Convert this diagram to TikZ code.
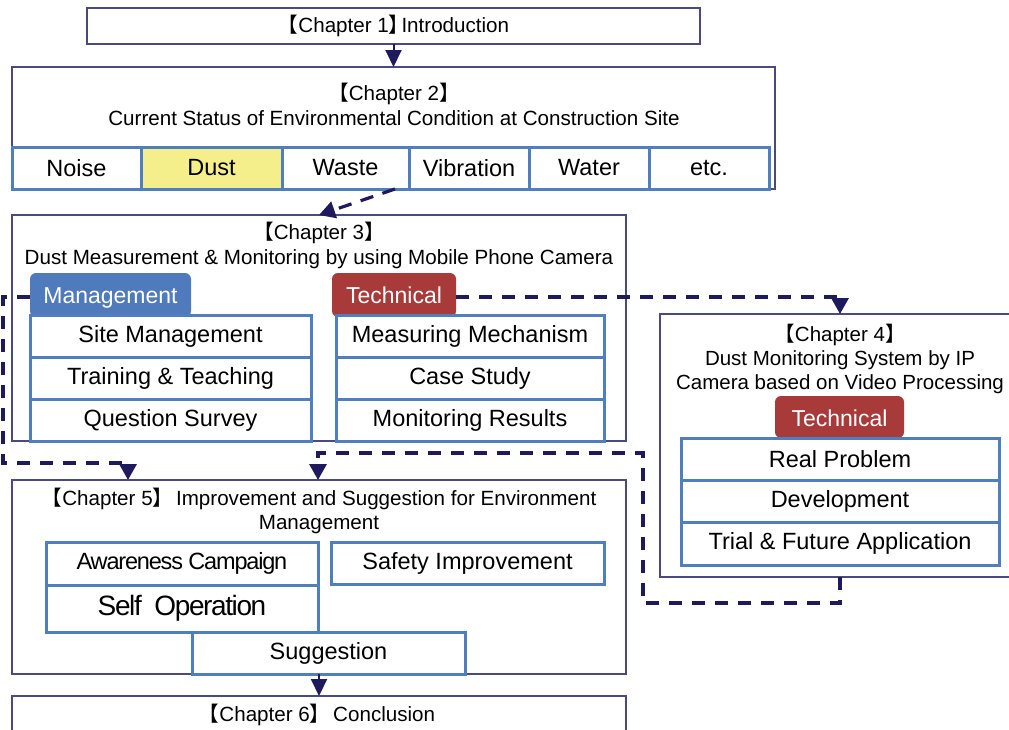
\documentclass[tikz,border=0pt]{standalone}
\usepackage{fontspec}
\setmainfont{Liberation Sans}
\newfontfamily\cjk{Noto Sans CJK SC}
\usetikzlibrary{arrows.meta}
\newcommand\lbk{{\cjk 【}}
\newcommand\rbk{{\cjk 】}}
\definecolor{navy}{HTML}{1F1A5E}
\definecolor{chline}{HTML}{4B4A80}
\definecolor{cellblue}{HTML}{4F7FBF}
\definecolor{tabblue}{HTML}{4F7BBD}
\definecolor{tabred}{HTML}{A83A3A}
\definecolor{dustyellow}{HTML}{F4EF8A}
\begin{document}
\begin{tikzpicture}[x=1pt,y=-1pt,
  chbox/.style={draw=chline, line width=1.3pt, fill=white, inner sep=0pt, outer sep=0pt, anchor=north west},
  chtitle/.style={font=\fontsize{20.6}{25}\selectfont, align=center, inner sep=0pt},
  cell/.style={draw=cellblue, line width=3pt, fill=white, inner sep=0pt, outer sep=0pt, anchor=north west,
    font=\fontsize{23.5}{26}\selectfont},
  tabbox/.style={rounded corners=6pt, inner sep=0pt, outer sep=0pt, anchor=north west},
  tabtext/.style={text=white, font=\fontsize{23}{26}\selectfont, inner sep=0pt, anchor=base},
  tight/.style={font=\fontsize{#1}{26}\selectfont\addfontfeature{LetterSpace=-5}},
  solidarrow/.style={draw=navy, line width=2pt, -{Triangle[width=16pt,length=17pt]}},
  flowdash/.style={draw=navy, line width=3.2pt, dash pattern=on 13.3pt off 9.7pt, line join=miter,
    -{Triangle[width=17pt,length=16pt]}}
]
\clip (0,0) rectangle (1009,729);
\fill[white] (0,0) rectangle (1009,729);

% Chapter 1
\node[chbox, minimum width=613pt, minimum height=36pt, font=\fontsize{20.6}{25}\selectfont]
  (ch1) at (87,8) {\lbk Chapter 1\rbk\hspace{-8pt}Introduction};

% Chapter 2 with the list of environmental conditions
\node[chbox, minimum width=763pt, minimum height=122pt] (ch2) at (12,67) {};
\node[chtitle] (ch2t) at (394,104.5) {\lbk Chapter 2\rbk\\Current Status of Environmental Condition at Construction Site};
\node[cell, minimum width=129pt, minimum height=42pt] (noise) at (12,147) {Noise};
\node[cell, minimum width=141pt, minimum height=42pt, fill=dustyellow] (dust) at (141,147) {Dust};
\node[cell, minimum width=127pt, minimum height=42pt] (waste) at (282,147) {Waste};
\node[cell, minimum width=120pt, minimum height=42pt] (vib) at (409,147) {Vibration};
\node[cell, minimum width=120pt, minimum height=42pt] (water) at (529,147) {Water};
\node[cell, minimum width=120pt, minimum height=42pt] (etc) at (649,147) {etc.};

% Chapter 3
\node[chbox, minimum width=614pt, minimum height=226pt] (ch3) at (12,215) {};
\node[chtitle] (ch3t) at (319,245.5) {\lbk Chapter 3\rbk\\Dust Measurement \& Monitoring by using Mobile Phone Camera};
\node[tabbox, fill=tabblue, minimum width=161pt, minimum height=44pt] (mtab) at (30,273) {};
\node[tabtext] (mtabt) at (110.5,303) {Management};
\node[tabbox, fill=tabred, minimum width=124pt, minimum height=44pt] (ttab) at (332,273) {};
\node[tabtext] (ttabt) at (394,303) {Technical};
\node[cell, minimum width=281pt, minimum height=42pt] (site) at (30,315) {Site Management};
\node[cell, minimum width=281pt, minimum height=42pt] (train) at (30,357) {Training \& Teaching};
\node[cell, minimum width=281pt, minimum height=42pt] (quest) at (30,399) {Question Survey};
\node[cell, minimum width=268pt, minimum height=42pt] (meas) at (336,315) {Measuring Mechanism};
\node[cell, minimum width=268pt, minimum height=42pt] (case) at (336,357) {Case Study};
\node[cell, minimum width=268pt, minimum height=42pt] (monit) at (336,399) {Monitoring Results};

% Chapter 4
\node[chbox, minimum width=360pt, minimum height=263pt] (ch4) at (660,314) {};
\node[chtitle, font=\fontsize{20.5}{24}\selectfont] (ch4t) at (840,359) {\lbk Chapter 4\rbk\\Dust Monitoring System by IP\\Camera based on Video Processing};
\node[tabbox, fill=tabred, minimum width=129pt, minimum height=42pt] (t4tab) at (775,396) {};
\node[tabtext] (t4tabt) at (839.5,426) {Technical};
\node[cell, minimum width=318pt, minimum height=42pt] (real) at (681,438) {Real Problem};
\node[cell, minimum width=318pt, minimum height=42pt] (dev) at (681,480) {Development};
\node[cell, minimum width=318pt, minimum height=43pt] (trial) at (681,522) {Trial \& Future Application};

% Chapter 5
\node[chbox, minimum width=614pt, minimum height=194pt] (ch5) at (12,480) {};
\node[chtitle, font=\fontsize{20.6}{24}\selectfont] (ch5t) at (319,511) {\lbk Chapter 5\rbk\hspace{-3pt}\ Improvement and Suggestion for Environment\\Management};
\node[cell, minimum width=272pt, minimum height=43pt, tight=23.5] (aware) at (46,542) {Awareness Campaign};
\node[cell, minimum width=273pt, minimum height=42pt] (safety) at (331,542) {Safety Improvement};
\node[cell, minimum width=272pt, minimum height=47pt, tight=28] (self) at (46,585) {Self\ \ Operation};
\node[cell, minimum width=273pt, minimum height=42pt] (sugg) at (192,632) {Suggestion};

% Chapter 6
\node[chbox, minimum width=614pt, minimum height=60pt] (ch6) at (12,696) {};
\node[chtitle] (ch6t) at (317,715) {\lbk Chapter 6\rbk\hspace{-3pt}\ Conclusion};

% bend points of the dashed routes
\coordinate (s23) at (395,189);
\coordinate (mA) at (3,297);
\coordinate (mB) at (3,463);
\coordinate (c4A) at (643,603);
\coordinate (c4B) at (643,453);

% connectors
\draw[solidarrow] (ch1.south) -- (ch2.north);
\draw[flowdash] (s23) -- (ch3.north);
\draw[flowdash] ([yshift=-2pt]ttab.east) -| (ch4.north);
\draw[flowdash] ([yshift=-2pt]mtab.west) -- (mA) -- (mB) -| ([xshift=116pt]ch5.north west);
\draw[flowdash] (ch4.south) |- (c4A) -- (c4B) -| ([xshift=306pt]ch5.north west);
\draw[solidarrow] (sugg.south -| ch6.north) -- (ch6.north);
\end{tikzpicture}
\end{document}
